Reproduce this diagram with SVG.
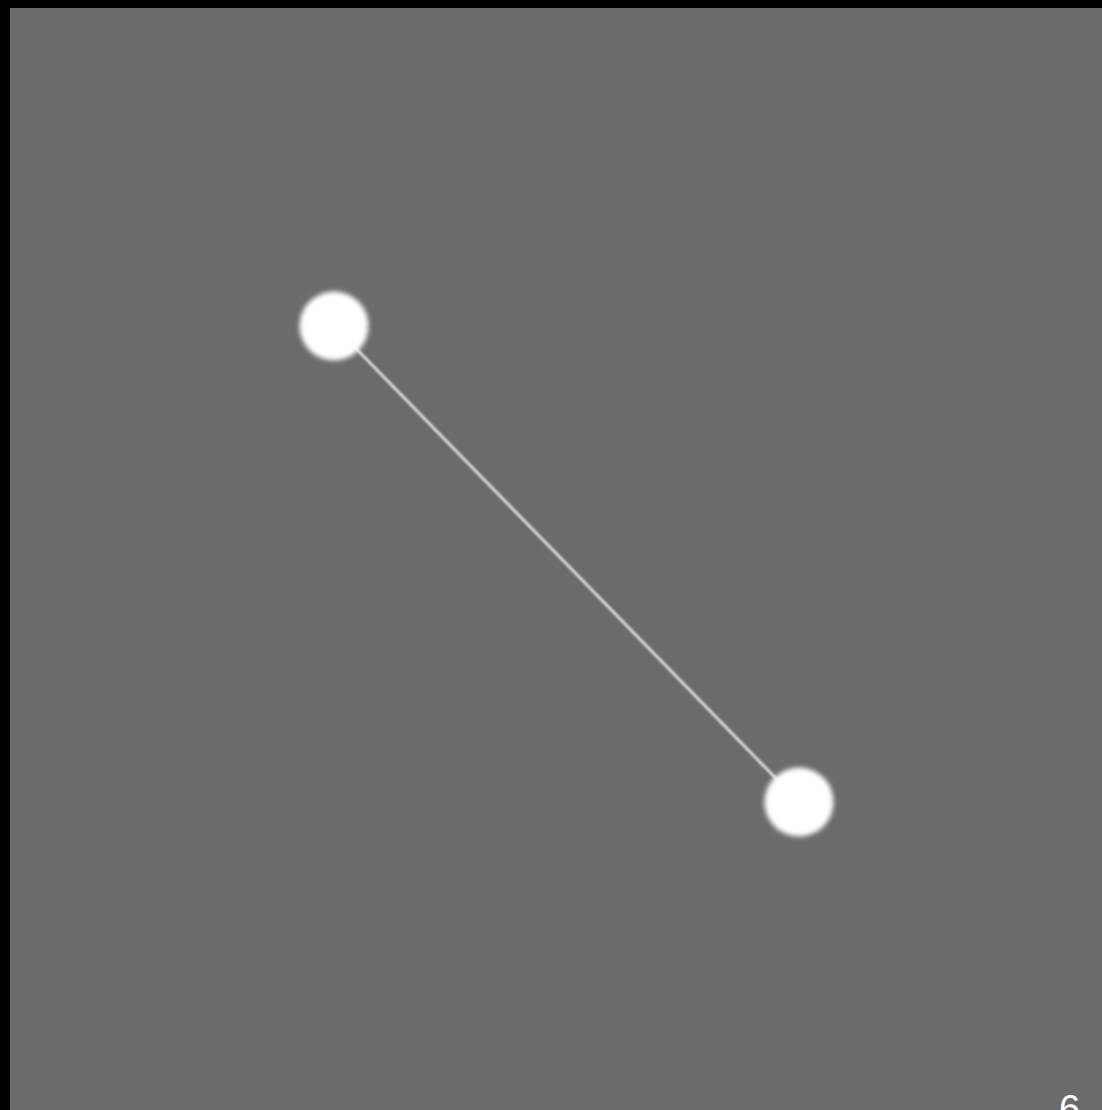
<svg xmlns="http://www.w3.org/2000/svg" width="1102" height="1110" viewBox="0 0 1102 1110">
  <style>
    .node { fill: #ffffff; filter: url(#soft); }
    .edge { stroke: #e0e0e0; stroke-width: 2.8; fill: none; filter: url(#softline); }
    .label { font-family: "Liberation Sans", Arial, sans-serif; font-size: 38px; fill: #ffffff; }
  </style>
  <defs>
    <filter id="soft" x="-30%" y="-30%" width="160%" height="160%">
      <feGaussianBlur stdDeviation="2.4"/>
    </filter>
    <filter id="softline" x="-10%" y="-10%" width="120%" height="120%">
      <feGaussianBlur stdDeviation="0.8"/>
    </filter>
  </defs>
  <rect x="0" y="0" width="1102" height="1110" fill="#000000"/>
  <rect x="10" y="8" width="1092" height="1102" fill="#6b6b6b"/>
  <g id="connectors">
    <line class="edge" x1="334" y1="326" x2="799" y2="802"/>
  </g>
  <g id="node-a">
    <circle class="node" cx="334" cy="326" r="34.5"/>
  </g>
  <g id="node-b">
    <circle class="node" cx="799" cy="802" r="34.5"/>
  </g>
  <text class="label" x="1059" y="1122">6</text>
</svg>
